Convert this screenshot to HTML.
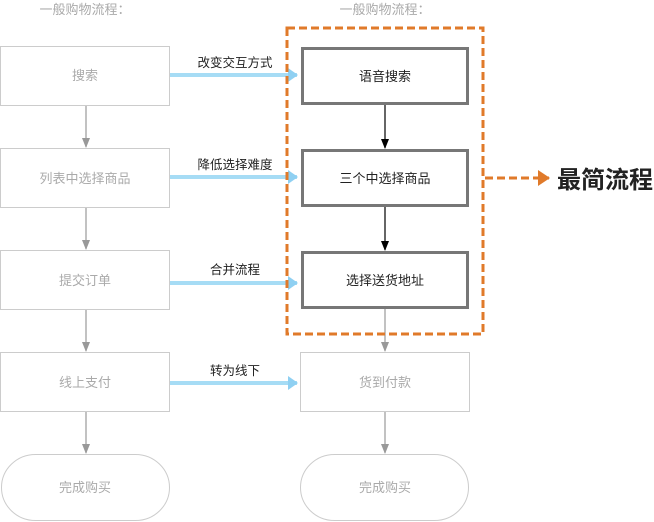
<!DOCTYPE html>
<html><head><meta charset="utf-8"><style>
html,body{margin:0;padding:0;background:#fff;}
svg{display:block;}
text{font-family:"Liberation Sans","Noto Sans CJK SC",sans-serif;}
</style></head><body>
<svg width="654" height="522" viewBox="0 0 654 522" xmlns="http://www.w3.org/2000/svg">
<defs>
<marker id="g" markerWidth="10" markerHeight="8" refX="9" refY="4" orient="auto" markerUnits="userSpaceOnUse"><path d="M0,0 L10,4 L0,8 Z" fill="#999"/></marker>
<marker id="k" markerWidth="10" markerHeight="8" refX="9" refY="4" orient="auto" markerUnits="userSpaceOnUse"><path d="M0,0 L10,4 L0,8 Z" fill="#000"/></marker>
<marker id="b" markerWidth="10" markerHeight="14" refX="9" refY="7" orient="auto" markerUnits="userSpaceOnUse"><path d="M0,0 L10,7 L0,14 Z" fill="#8fd0f2"/></marker>
<marker id="o" markerWidth="12" markerHeight="16" refX="11" refY="8" orient="auto" markerUnits="userSpaceOnUse"><path d="M0,0 L12,8 L0,16 Z" fill="#e07a2a"/></marker>
</defs>
<g font-size="13" fill="#aaa" text-anchor="middle">
<text x="85" y="14">一般购物流程：</text>
<text x="385" y="14">一般购物流程：</text>
</g>
<g fill="#fff" stroke="#ccc" stroke-width="1">
<rect x="0.5" y="46.5" width="169" height="59"/>
<rect x="0.5" y="148.5" width="169" height="59"/>
<rect x="0.5" y="250.5" width="169" height="59"/>
<rect x="0.5" y="352.5" width="169" height="59"/>
<rect x="1.5" y="454.5" width="168" height="66" rx="34"/>
<rect x="300.5" y="352.5" width="169" height="59"/>
<rect x="300.5" y="454.5" width="168" height="66" rx="34"/>
</g>
<g stroke="#999" stroke-width="1.2" marker-end="url(#g)">
<line x1="86" y1="106" x2="86" y2="147"/>
<line x1="86" y1="208" x2="86" y2="249"/>
<line x1="86" y1="310" x2="86" y2="351"/>
<line x1="86" y1="412" x2="86" y2="453"/>
<line x1="385" y1="309" x2="385" y2="351"/>
<line x1="385" y1="412" x2="385" y2="453"/>
</g>
<g font-size="13" fill="#aaa" text-anchor="middle">
<text x="85" y="80">搜索</text>
<text x="85" y="183">列表中选择商品</text>
<text x="85" y="285">提交订单</text>
<text x="85" y="387">线上支付</text>
<text x="85" y="492">完成购买</text>
<text x="385" y="387">货到付款</text>
<text x="385" y="492">完成购买</text>
</g>
<g stroke="#a6dcf5" stroke-width="4" marker-end="url(#b)">
<line x1="170" y1="75" x2="297" y2="75"/>
<line x1="170" y1="177" x2="297" y2="177"/>
<line x1="170" y1="283" x2="297" y2="283"/>
<line x1="170" y1="383" x2="297" y2="383"/>
</g>
<g font-size="12.5" fill="#222" text-anchor="middle">
<text x="235" y="67">改变交互方式</text>
<text x="235" y="169">降低选择难度</text>
<text x="235" y="274">合并流程</text>
<text x="235" y="375">转为线下</text>
</g>
<g fill="#fff" stroke="#777" stroke-width="3">
<rect x="302.5" y="48.5" width="165" height="55"/>
<rect x="302.5" y="150.5" width="165" height="55"/>
<rect x="302.5" y="252.5" width="165" height="55"/>
</g>
<g stroke="#000" stroke-width="1.2" marker-end="url(#k)">
<line x1="385" y1="105" x2="385" y2="148"/>
<line x1="385" y1="207" x2="385" y2="250"/>
</g>
<g font-size="13" fill="#222" text-anchor="middle">
<text x="385" y="81">语音搜索</text>
<text x="385" y="183">三个中选择商品</text>
<text x="385" y="285">选择送货地址</text>
</g>
<rect x="287" y="28" width="196" height="306" fill="none" stroke="#e07a2a" stroke-width="3" stroke-dasharray="8,4"/>
<line x1="485" y1="178" x2="549" y2="178" stroke="#e07a2a" stroke-width="3" stroke-dasharray="8,4" marker-end="url(#o)"/>
<text x="557" y="188" font-size="24" font-weight="bold" fill="#222">最简流程</text>
</svg>
</body></html>
